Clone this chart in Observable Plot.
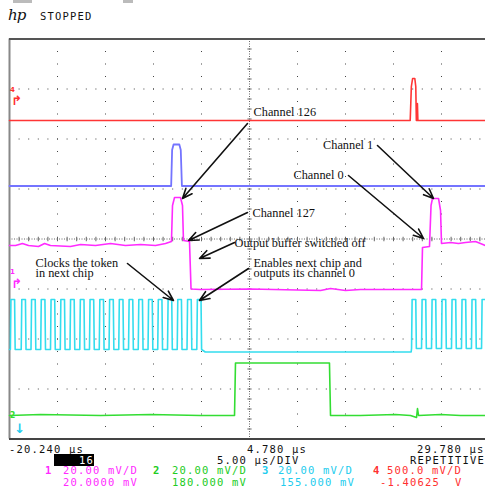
<!DOCTYPE html>
<html><head><meta charset="utf-8">
<script src="https://cdn.jsdelivr.net/npm/d3@7"></script>
<script src="https://cdn.jsdelivr.net/npm/@observablehq/plot@0.6"></script>
<style>
body{margin:0;background:#fff;}
#wrap{position:relative;width:485px;height:488px;overflow:hidden;background:#fff;}
#wrap svg{position:absolute;left:0;top:0;}
.m{position:absolute;font-family:"DejaVu Sans Mono",monospace;font-size:10.5px;line-height:10px;height:10px;letter-spacing:1.18px;white-space:pre;color:#111;}
.b{font-weight:bold;}
</style></head><body><div id="wrap"></div><script>
// Time axis (µs) and vertical divisions
const timeStart = -20.24, timeEnd = 29.76, centerTime = 4.76;
const gridTimes = [-15.24, -10.24, -5.24, -0.24, 9.76, 14.76, 19.76, 24.76];
const gridDivs = [3, 2, 1, -1, -2, -3];

// Channel 4 (red)
const redT = [-20.24, 21.50, 21.62, 21.75, 21.98, 22.08, 22.14, 22.22, 22.25, 22.30, 29.76];
const redV = [2.37, 2.37, 3.05, 3.21, 3.21, 3.05, 2.37, 2.37, 2.71, 2.37, 2.37];
// stored trace (blue)
const blueT = [-20.24, -3.40, -3.30, -3.15, -2.55, -2.40, -2.28, 29.76];
const blueV = [1.06, 1.06, 1.78, 1.89, 1.89, 1.78, 1.06, 1.06];
// Channel 1 (magenta)
const magT = [-20.24, -19.61, -18.89, -18.26, -17.22, -16.59, -15.97, -13.89, -12.84, -11.28, -9.72, -8.16, -6.59, -5.03, -3.99, -3.37, -3.26, -3.05, -2.43, -2.22, -2.12, -1.49, -1.33, -0.34, 4.86, 12.16, 13.20, 14.76, 16.32, 20.49, 22.68, 22.78, 23.51, 23.67, 23.82, 24.45, 24.66, 24.76, 25.70, 26.53, 27.26, 28.30, 28.82, 29.34, 29.76];
const magV = [-0.13, -0.13, -0.09, -0.13, -0.15, -0.09, -0.13, -0.15, -0.11, -0.13, -0.09, -0.13, -0.11, -0.13, -0.09, -0.05, 0.67, 0.83, 0.83, 0.67, -0.03, -0.05, -1.00, -1.01, -1.00, -1.03, -0.99, -1.03, -1.01, -1.01, -1.01, -0.17, -0.15, 0.67, 0.81, 0.81, 0.57, -0.09, -0.07, -0.09, -0.07, -0.05, -0.09, -0.13, -0.11];
// Channel 2 (green)
const greenT = [-20.24, -17.01, -10.76, -5.55, -0.34, 3.20, 3.30, 13.09, 13.20, 16.32, 19.97, 21.53, 22.16, 22.26, 22.37, 24.66, 26.74, 29.76];
const greenV = [-3.53, -3.51, -3.53, -3.51, -3.53, -3.53, -2.48, -2.48, -3.53, -3.53, -3.51, -3.53, -3.57, -3.39, -3.53, -3.51, -3.53, -3.53];
// Channel 3 (cyan) clock: rising edge times
const cyanLeftRises = [-20.15, -19.02, -18.00, -16.99, -15.97, -14.95, -13.94, -12.92, -11.91, -10.89, -9.87, -8.86, -7.84, -6.83, -5.81, -4.80, -3.78, -2.77, -1.75, -0.73];
const cyanRightRises = [21.64, 22.68, 23.72, 24.76, 25.80, 26.84, 27.88, 28.93];
const cyanHigh = -1.21, cyanLowLeft = -2.21, cyanLowRight = -2.19, cyanIdle = -2.26;

// annotations
const labelText = ["Channel 126", "Channel 1", "Channel 0", "Channel 127", "Output buffer switched off", "Enables next chip and\noutputs its channel 0", "Clocks the token\nin next chip"];
const labelT = [5.18, 12.42, 9.34, 5.07, 3.20, 5.18, -17.53];
const labelV = [2.53, 1.87, 1.27, 0.51, -0.09, -0.59, -0.59];
const arrowT1 = [4.55, 4.55, 3.20, 4.66, -7.95, 18.09, 15.07];
const arrowV1 = [2.31, 0.53, -0.07, -0.59, -0.49, 1.87, 1.27];
const arrowT2 = [-2.22, -1.59, -0.45, -0.45, -3.16, 23.93, 22.89];
const arrowV2 = [0.81, -0.03, -0.39, -1.23, -1.23, 0.81, 0.01];

// ground markers at left edge (channel digit + level arrow)
const markGlyph = ["4", "↱", "1", "↱", "2", "↓"];
const markColor = ["#ff3030", "#ff3030", "#ff2bff", "#ff2bff", "#33dd33", "#22ccee"];
const markV = [2.99, 2.77, -0.65, -0.89, -3.52, -3.79];
const markSize = [7, 13, 7, 13, 8, 13];
const markT = [-19.93, -19.49, -19.93, -19.49, -19.93, -19.18];

const zipTV = (T, V) => T.map((t, i) => ({t, v: V[i]}));
function clock(rises, low, width) {
  const pts = [];
  rises.forEach(r => {
    pts.push({t: r, v: low}, {t: r + 0.06, v: cyanHigh}, {t: r + width - 0.06, v: cyanHigh}, {t: r + width, v: low});
  });
  return pts;
}
const cyanData = [{t: timeStart, v: cyanLowLeft}]
  .concat(clock(cyanLeftRises, cyanLowLeft, 0.5))
  .concat([{t: 0.15, v: cyanIdle}, {t: 21.60, v: cyanIdle}])
  .concat(clock(cyanRightRises, cyanLowRight, 0.5))
  .concat([{t: timeEnd, v: cyanLowRight}]);

const labels = labelText.map((s, i) => ({s, t: labelT[i], v: labelV[i]}));
const arrows = arrowT1.map((t, i) => ({x1: t, y1: arrowV1[i], x2: arrowT2[i], y2: arrowV2[i]}));
const markers = markGlyph.map((g, i) => ({g, c: markColor[i], v: markV[i], s: markSize[i], t: markT[i]}));
const vTicks = d3.range(-4, 4.001, 0.2);
const hTicks = d3.range(timeStart, timeEnd + 0.001, 1);

const chart = Plot.plot({
  width: 485, height: 488,
  marginTop: 38.5, marginBottom: 49.5, marginLeft: 9, marginRight: 0,
  x: {domain: [timeStart, timeEnd], range: [9, 489], axis: null},
  y: {domain: [-4, 4], range: [438.5, 38.5], axis: null},
  style: {background: "transparent", overflow: "visible"},
  marks: [
    Plot.ruleX(gridTimes, {stroke: "#444", strokeDasharray: "1 11.5"}),
    Plot.ruleY(gridDivs, {stroke: "#444", strokeDasharray: "1 8.6"}),
    Plot.ruleX([centerTime], {stroke: "#666", strokeDasharray: "1 1.5"}),
    Plot.ruleY([0], {stroke: "#666", strokeDasharray: "1 1.5"}),
    Plot.link(vTicks, {x1: () => centerTime - 0.22, x2: () => centerTime + 0.22, y1: d => d, y2: d => d, stroke: "#666"}),
    Plot.link(hTicks, {x1: d => d, x2: d => d, y1: () => -0.045, y2: () => 0.045, stroke: "#666"}),
    Plot.ruleX([timeStart], {stroke: "#888", strokeWidth: 2}),
    Plot.ruleY([4], {stroke: "#555", strokeWidth: 2}),
    Plot.ruleY([-4], {stroke: "#444", strokeWidth: 2}),
    Plot.line(zipTV(redT, redV), {x: "t", y: "v", stroke: "#ff3535", strokeWidth: 1.6}),
    Plot.line(zipTV(blueT, blueV), {x: "t", y: "v", stroke: "#7474ff", strokeWidth: 1.8}),
    Plot.line(zipTV(greenT, greenV), {x: "t", y: "v", stroke: "#33dd33", strokeWidth: 1.6}),
    Plot.line(cyanData, {x: "t", y: "v", stroke: "#33ddee", strokeWidth: 1.6}),
    Plot.line(zipTV(magT, magV), {x: "t", y: "v", stroke: "#ff2bff", strokeWidth: 1.6}),
    Plot.text(markers, {x: "t", y: "v", text: "g", fill: "c", fontSize: "s", fontWeight: "bold", fontFamily: "DejaVu Sans"}),
    Plot.arrow(arrows, {x1: "x1", y1: "y1", x2: "x2", y2: "y2", stroke: "#111", strokeWidth: 1.6, headLength: 10, headAngle: 45}),
    Plot.text(labels, {x: "t", y: "v", text: "s", textAnchor: "start", lineHeight: 0.88, fontFamily: "Liberation Serif", fontSize: 12.3, fill: "#111"})
  ]
});
const wrap = document.getElementById("wrap");
wrap.appendChild(chart);

// header / footer text
const header = [
  {s: "STOPPED", x: 40, y: 16, c: "#111"}
];
const footer = [
  {s: "-20.240 μs", x: 9, y: 448.5, c: "#111"},
  {s: "4.780 μs", x: 247, y: 448.5, c: "#111"},
  {s: "29.780 μs", x: 417, y: 448.5, c: "#111"},
  {s: "5.00 μs/DIV", x: 217, y: 459.5, c: "#111"},
  {s: "REPETITIVE", x: 410, y: 459.5, c: "#111"},
  {s: "1", x: 45, y: 470, c: "#ff2bff", b: 1},
  {s: "20.00 mV/D", x: 63, y: 470, c: "#ff2bff"},
  {s: "2", x: 153, y: 470, c: "#22cc22", b: 1},
  {s: "20.00 mV/D", x: 172, y: 470, c: "#22cc22"},
  {s: "3", x: 262, y: 470, c: "#22ccee", b: 1},
  {s: "20.00 mV/D", x: 278, y: 470, c: "#22ccee"},
  {s: "4", x: 373, y: 470, c: "#ff3030", b: 1},
  {s: "500.0 mV/D", x: 387, y: 470, c: "#ff3030"},
  {s: "20.0000 mV", x: 63, y: 481.5, c: "#ff2bff"},
  {s: "180.000 mV", x: 172, y: 481.5, c: "#22cc22"},
  {s: "155.000 mV", x: 280, y: 481.5, c: "#22ccee"},
  {s: "-1.40625  V", x: 380, y: 481.5, c: "#ff3030"}
];
function addText(o) {
  const el = document.createElement("div");
  el.className = "m" + (o.b ? " b" : "");
  el.textContent = o.s;
  el.style.left = o.x + "px";
  el.style.top = (o.y - 4.8) + "px";
  el.style.color = o.c;
  wrap.appendChild(el);
}
header.concat(footer).forEach(addText);

// black counter box with "16"
const box = document.createElement("div");
box.style.cssText = "position:absolute;left:54px;top:454px;width:40px;height:12px;background:#000;";
wrap.appendChild(box);
addText({s: "16", x: 79, y: 459.5, c: "#fff"});

// hp logo
const hp = document.createElement("div");
hp.textContent = "hp";
hp.style.cssText = "position:absolute;left:8px;top:8px;font:italic 15px 'DejaVu Serif',serif;line-height:15px;color:#111;letter-spacing:-1px;";
wrap.appendChild(hp);
// grey fragments at very top
[[13, 19], [123, 10]].forEach(([x, w]) => {
  const g = document.createElement("div");
  g.style.cssText = `position:absolute;left:${x}px;top:0;width:${w}px;height:3px;background:#bbb;`;
  wrap.appendChild(g);
});
</script></body></html>
